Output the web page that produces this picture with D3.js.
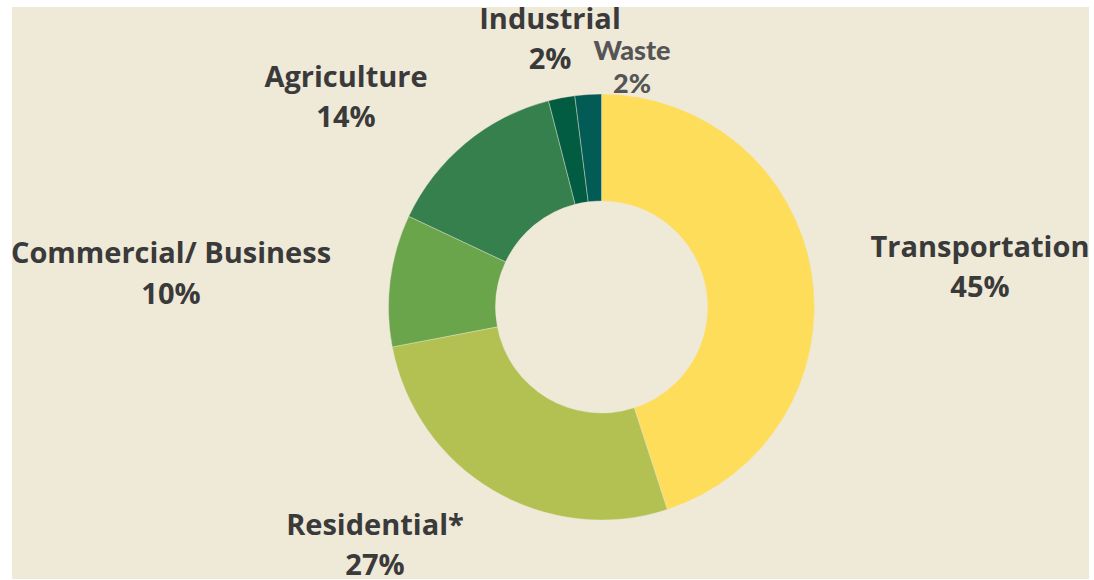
<!DOCTYPE html>
<html>
<head>
<meta charset="utf-8">
<script src="https://cdn.jsdelivr.net/npm/d3@7"></script>
<style>
  html, body { margin: 0; padding: 0; background: #ffffff; }
  svg { display: block; }
</style>
</head>
<body>
<div id="chart"></div>
<script>
// sector shares, clockwise from 12 o'clock
const sectors = ["Transportation", "Residential*", "Commercial/ Business", "Agriculture", "Industrial", "Waste"];
const shares = [45, 27, 10, 14, 2, 2];
const shareLabels = ["45%", "27%", "10%", "14%", "2%", "2%"];
const colors = ["#fedd5b", "#b2c152", "#6aa44b", "#36804e", "#025c42", "#035b55"];

const width = 1094, height = 580;
const cx = 601.5, cy = 307;
const outerR = 213, innerR = 106;

const svg = d3.select("#chart")
  .append("svg")
    .attr("width", width)
    .attr("height", height);

// beige panel
svg.append("rect")
  .attr("x", 12)
  .attr("y", 7)
  .attr("width", 1077)
  .attr("height", 572)
  .attr("fill", "#efe9d8");

const pie = d3.pie().sort(null).value(d => d);
const arc = d3.arc().innerRadius(innerR).outerRadius(outerR);

const g = svg.append("g")
  .attr("transform", `translate(${cx},${cy})`);

g.selectAll("path")
  .data(pie(shares))
  .join("path")
    .attr("d", arc)
    .attr("fill", (d, i) => colors[i])
    .attr("stroke", "#efe9d8")
    .attr("stroke-width", 0.4);

// label placement (name baseline, percent baseline, centre x)
const labelPos = [
  {x: 980, y1: 257, y2: 297},
  {x: 375, y1: 535, y2: 575},
  {x: 171, y1: 263, y2: 304},
  {x: 346, y1: 87, y2: 127},
  {x: 550, y1: 29, y2: 69},
  {x: 632, y1: 60, y2: 93}
];

sectors.forEach(function(name, i) {
  const p = labelPos[i];
  const waste = name === "Waste";
  const t = svg.append("text")
    .attr("text-anchor", "middle")
    .attr("font-family", waste ? "Lato, sans-serif" : "'Open Sans', sans-serif")
    .attr("font-weight", waste ? 900 : 700)
    .attr("font-size", waste ? 27 : 29)
    .attr("fill", waste ? "#555555" : "#3a3a3a");
  t.append("tspan").attr("x", p.x).attr("y", p.y1).text(name);
  t.append("tspan").attr("x", p.x).attr("y", p.y2).text(shareLabels[i]);
});
</script>
</body>
</html>
